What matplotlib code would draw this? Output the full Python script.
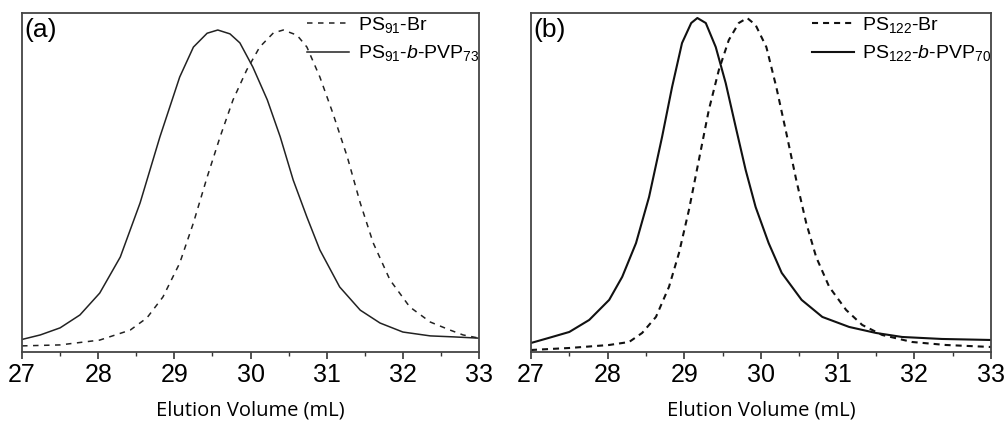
import matplotlib
matplotlib.use('Agg')
import matplotlib.pyplot as plt
from matplotlib.ticker import MultipleLocator

plt.rcParams['font.family'] = 'Liberation Sans'
plt.rcParams['mathtext.fontset'] = 'custom'
plt.rcParams['mathtext.rm'] = 'Liberation Sans'
plt.rcParams['mathtext.it'] = 'Liberation Sans:italic'

# ---------------------------------------------------
# datos (intensidad normalizada)
# ---------------------------------------------------
# (a) PS91-Br (discontinua)
va_br = [27.00, 27.50, 28.02, 28.42, 28.64, 28.85, 29.07, 29.25, 29.43, 29.60,
         29.77, 29.95, 30.12, 30.30, 30.43, 30.61, 30.74, 30.91, 31.08, 31.27,
         31.44, 31.61, 31.83, 32.09, 32.36, 32.62, 32.79, 33.00]
ia_br = [0.019, 0.022, 0.037, 0.068, 0.106, 0.171, 0.276, 0.401, 0.543, 0.668,
         0.783, 0.876, 0.947, 0.991, 1.000, 0.984, 0.947, 0.854, 0.742, 0.606,
         0.463, 0.339, 0.224, 0.140, 0.093, 0.068, 0.053, 0.043]
# (a) PS91-b-PVP73 (continua)
va_bc = [27.00, 27.24, 27.50, 27.76, 28.02, 28.29, 28.55, 28.81, 29.07, 29.25,
         29.43, 29.57, 29.73, 29.86, 30.03, 30.22, 30.39, 30.56, 30.74, 30.91,
         31.17, 31.44, 31.70, 32.00, 32.36, 32.66, 33.00]
ia_bc = [0.039, 0.053, 0.075, 0.115, 0.183, 0.295, 0.463, 0.668, 0.854, 0.947,
         0.990, 1.000, 0.988, 0.960, 0.885, 0.783, 0.668, 0.534, 0.419, 0.317,
         0.202, 0.130, 0.090, 0.062, 0.050, 0.047, 0.043]

# (b) PS122-Br (discontinua)
vb_br = [27.00, 27.50, 28.02, 28.28, 28.45, 28.63, 28.80, 28.93, 29.06, 29.19,
         29.32, 29.45, 29.58, 29.71, 29.82, 29.93, 30.07, 30.20, 30.33, 30.46,
         30.59, 30.72, 30.89, 31.11, 31.32, 31.58, 31.97, 32.41, 33.00]
ib_br = [0.006, 0.012, 0.021, 0.030, 0.057, 0.105, 0.195, 0.296, 0.425, 0.575,
         0.725, 0.844, 0.934, 0.985, 1.000, 0.979, 0.913, 0.793, 0.656, 0.515,
         0.386, 0.284, 0.195, 0.126, 0.081, 0.051, 0.030, 0.021, 0.015]
# (b) PS122-b-PVP70 (continua)
vb_bc = [27.00, 27.23, 27.50, 27.76, 28.02, 28.19, 28.37, 28.54, 28.71, 28.84,
         28.97, 29.09, 29.17, 29.28, 29.41, 29.54, 29.67, 29.80, 29.93, 30.10,
         30.27, 30.53, 30.80, 31.15, 31.50, 31.84, 32.36, 33.00]
ib_bc = [0.027, 0.042, 0.060, 0.096, 0.156, 0.225, 0.326, 0.464, 0.644, 0.793,
         0.925, 0.985, 1.000, 0.985, 0.913, 0.805, 0.674, 0.545, 0.434, 0.326,
         0.237, 0.156, 0.105, 0.075, 0.057, 0.045, 0.039, 0.036]

etiquetas_a = ['PS$_{91}$-Br', 'PS$_{91}$-$\\it{b}$-PVP$_{73}$']
etiquetas_b = ['PS$_{122}$-Br', 'PS$_{122}$-$\\it{b}$-PVP$_{70}$']
# ---------------------------------------------------

fig = plt.figure(figsize=(10.06, 4.21), dpi=100)
ax1 = fig.add_axes([0.0219, 0.1639, 0.4543, 0.8052])
ax2 = fig.add_axes([0.5278, 0.1639, 0.4573, 0.8052])

ax1.plot(va_br, ia_br, color='#222222', lw=1.1, ls=(0, (3.6, 3.6)), label=etiquetas_a[0])
ax1.plot(va_bc, ia_bc, color='#222222', lw=1.1, label=etiquetas_a[1])
ax1.set_ylim(0, 339 / 322)

ax2.plot(vb_br, ib_br, color='#111111', lw=1.5, ls=(0, (2.9, 2.4)), label=etiquetas_b[0])
ax2.plot(vb_bc, ib_bc, color='#111111', lw=1.5, label=etiquetas_b[1])
ax2.set_ylim(0, 339 / 334)

for ax, letra in [(ax1, '(a)'), (ax2, '(b)')]:
    ax.set_xlim(27, 33)
    ax.xaxis.set_major_locator(MultipleLocator(1))
    ax.xaxis.set_minor_locator(MultipleLocator(0.5))
    ax.set_yticks([])
    ax.tick_params(axis='x', which='major', length=5, width=1.2, color='#333333',
                   labelsize=18, pad=3)
    ax.tick_params(axis='x', which='minor', length=3, width=1.0, color='#333333')
    for s in ax.spines.values():
        s.set_color('#444444')
        s.set_linewidth(1.3)
    ax.set_xlabel('Elution Volume (mL)', fontsize=14.5, family='Open Sans', labelpad=10)
    ax.text(0.006, 0.985, letra, transform=ax.transAxes, fontsize=19, va='top', ha='left')
    ax.legend(loc='upper right', bbox_to_anchor=(1.018, 1.018), frameon=False, fontsize=14,
              handlelength=2.15, handletextpad=0.45, borderaxespad=0.0, labelspacing=0.45)

fig.savefig('out.png', dpi=100)
